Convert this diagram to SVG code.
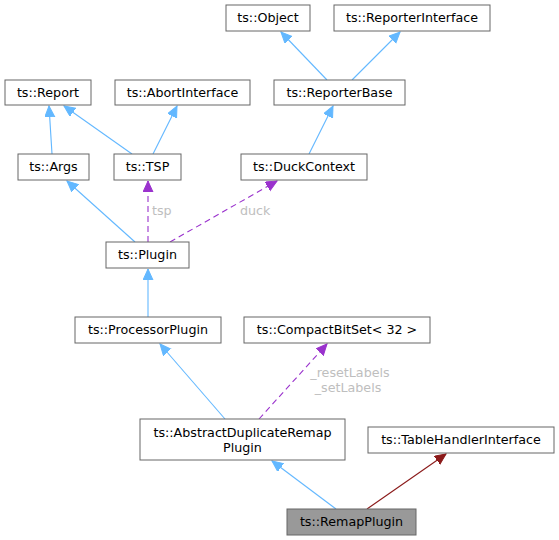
<svg xmlns="http://www.w3.org/2000/svg" width="559" height="540" viewBox="0 0 559 540">
<style>
.n rect{fill:#ffffff;stroke:#666666;stroke-width:1}
.n text{font-family:"DejaVu Sans",sans-serif;font-size:12.7px;fill:#000000;text-anchor:middle}
.e path{fill:none;stroke-width:1.1}
.b{stroke:#63b8ff;marker-end:url(#ab)}
.p{stroke:#9a32cd;stroke-dasharray:6,4;marker-end:url(#ap)}
.r{stroke:#8b1a1a;marker-end:url(#ar)}
.l{font-family:"DejaVu Sans",sans-serif;font-size:12.7px;fill:#bebebe}
</style>
<defs>
<marker id="ab" markerUnits="userSpaceOnUse" markerWidth="12" markerHeight="11" refX="11" refY="5" orient="auto"><path d="M0,0 L11,5 L0,10 z" fill="#63b8ff" stroke="#63b8ff"/></marker>
<marker id="ap" markerUnits="userSpaceOnUse" markerWidth="12" markerHeight="11" refX="11" refY="5" orient="auto"><path d="M0,0 L11,5 L0,10 z" fill="#9a32cd" stroke="#9a32cd"/></marker>
<marker id="ar" markerUnits="userSpaceOnUse" markerWidth="12" markerHeight="11" refX="11" refY="5" orient="auto"><path d="M0,0 L11,5 L0,10 z" fill="#8b1a1a" stroke="#8b1a1a"/></marker>
</defs>
<rect width="559" height="540" fill="#ffffff"/>
<g id="edges" class="e">
<path class="b" d="M327,80 L281,32"/>
<path class="b" d="M352,80 L400,32"/>
<path class="b" d="M52,154 L49,106"/>
<path class="b" d="M132,154 L64,106"/>
<path class="b" d="M153,154 L177,106"/>
<path class="b" d="M309,154 L333,106"/>
<path class="b" d="M135,242 L67,181"/>
<path class="p" d="M148,242 L148,181"/>
<path class="p" d="M170,242 L277,181"/>
<path class="b" d="M148,317 L148,269"/>
<path class="b" d="M225,419 L160,344"/>
<path class="p" d="M259,419 L327,344"/>
<path class="b" d="M336,509 L272,461"/>
<path class="r" d="M367,509 L446,454"/>
<text class="l" x="152" y="215">tsp</text>
<text class="l" x="240" y="215">duck</text>
<text class="l" x="350" y="377" text-anchor="middle">_resetLabels</text>
<text class="l" x="348" y="392" text-anchor="middle">_setLabels</text>
</g>
<g id="object" class="n"><rect x="226" y="5" width="84" height="26"/><text x="268" y="22">ts::Object</text></g>
<g id="reporterinterface" class="n"><rect x="334" y="5" width="156" height="26"/><text x="412" y="22">ts::ReporterInterface</text></g>
<g id="report" class="n"><rect x="5" y="80" width="86" height="25"/><text x="48" y="97">ts::Report</text></g>
<g id="abortinterface" class="n"><rect x="115" y="80" width="135" height="25"/><text x="182.5" y="97">ts::AbortInterface</text></g>
<g id="reporterbase" class="n"><rect x="274" y="80" width="131" height="25"/><text x="339.5" y="97">ts::ReporterBase</text></g>
<g id="args" class="n"><rect x="18" y="154" width="71" height="26"/><text x="53.5" y="171">ts::Args</text></g>
<g id="tsp" class="n"><rect x="114" y="154" width="67" height="26"/><text x="147.5" y="171">ts::TSP</text></g>
<g id="duckcontext" class="n"><rect x="241" y="154" width="126" height="26"/><text x="304" y="171">ts::DuckContext</text></g>
<g id="plugin" class="n"><rect x="106" y="242" width="83" height="26"/><text x="147.5" y="259">ts::Plugin</text></g>
<g id="processorplugin" class="n"><rect x="75" y="317" width="146" height="26"/><text x="148" y="334">ts::ProcessorPlugin</text></g>
<g id="compactbitset" class="n"><rect x="244" y="317" width="186" height="26"/><text x="337" y="334">ts::CompactBitSet&lt; 32 &gt;</text></g>
<g id="abstractduplicateremapplugin" class="n"><rect x="140" y="419" width="205" height="41"/><text x="242.5" y="437">ts::AbstractDuplicateRemap</text><text x="242.5" y="452">Plugin</text></g>
<g id="tablehandlerinterface" class="n"><rect x="368" y="427" width="186" height="26"/><text x="461" y="444">ts::TableHandlerInterface</text></g>
<g id="remapplugin" class="n"><rect x="287" y="509" width="129" height="26" style="fill:#999999"/><text x="351.5" y="526">ts::RemapPlugin</text></g>
</svg>
